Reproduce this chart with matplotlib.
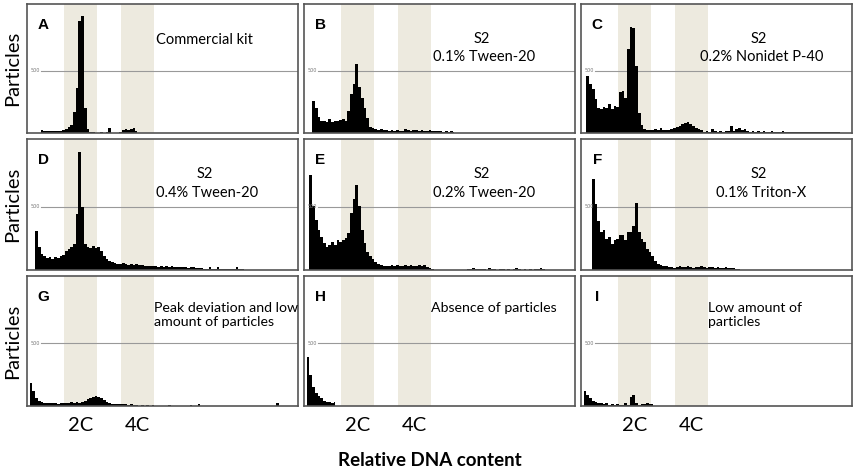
import numpy as np
import matplotlib
matplotlib.use('Agg')
import matplotlib.pyplot as plt

# ===== data: particle counts per channel (channel = 1/100 of panel width) =====
hist_A = [0, 0, 0, 0, 0, 22, 15, 20, 14, 18, 16, 20, 18, 22, 30, 45, 65, 170, 360, 900,
          940, 200, 35, 12, 6, 4, 3, 5, 3, 6, 40, 4, 3, 3, 5, 25, 30, 22, 35, 42, 15]
hist_B = [0, 0, 0, 257, 200, 130, 95, 100, 85, 110, 90, 100, 95, 105, 110, 100, 175, 311, 393, 550,
          366, 284, 200, 120, 52, 40, 30, 28, 30, 22, 25, 18, 28, 20, 24, 15, 20, 30, 22, 18,
          25, 28, 20, 22, 18, 15, 22, 16, 20, 14, 18, 12, 16, 10, 14, 8]
hist_C = [0, 0, 460, 390, 350, 270, 200, 190, 210, 200, 230, 195, 215, 205, 325, 340, 280, 675, 850, 840,
          540, 160, 68, 35, 25, 28, 22, 30, 25, 40, 24, 28, 22, 35, 40, 45, 60, 75, 80, 86,
          70, 55, 40, 30, 22, 12, 15, 10, 30, 14, 12, 18, 10, 15, 20, 54, 18, 32, 40, 28,
          36, 15, 12, 18, 10, 14, 12, 16, 10, 12, 14, 10, 12, 8, 14, 10, 12, 8, 10, 12,
          8, 10, 12, 8, 10, 9, 8, 10, 7, 9, 8, 7, 9, 6, 10, 5]
hist_D = [0, 0, 0, 310, 180, 126, 110, 95, 105, 90, 100, 92, 108, 120, 150, 165, 180, 205, 440, 936,
          500, 205, 185, 175, 190, 170, 180, 150, 113, 87, 75, 60, 55, 50, 45, 52, 48, 42, 47, 40,
          45, 38, 42, 35, 30, 32, 28, 30, 26, 28, 25, 30, 24, 28, 22, 26, 20, 24, 22, 18,
          22, 20, 16, 18, 12, 10, 8, 26, 8, 6, 22, 8, 6, 5, 4, 5, 6, 26, 5, 4, 3, 0]
hist_E = [0, 0, 748, 505, 398, 317, 264, 210, 183, 200, 223, 196, 237, 223, 240, 250, 290, 452, 560, 672,
          505, 317, 210, 143, 110, 89, 65, 48, 38, 32, 35, 28, 38, 30, 43, 32, 28, 36, 30, 40,
          34, 28, 38, 30, 42, 26, 18, 8, 0, 0, 0, 0, 0, 0, 0, 0, 0, 0, 0, 0,
          10, 4, 12, 6, 4, 10, 5, 3, 12, 4, 6, 3, 10, 4, 3, 4, 3, 4, 12, 5,
          3, 4, 3, 4, 3, 10, 4, 12, 4, 3, 2]
hist_F = [0, 0, 0, 0, 720, 522, 385, 302, 316, 247, 261, 206, 234, 247, 275, 275, 234, 302, 302, 350,
          528, 302, 247, 220, 165, 140, 110, 69, 50, 41, 35, 28, 22, 25, 18, 22, 28, 20, 25, 30,
          22, 18, 25, 20, 28, 22, 18, 24, 20, 16, 22, 18, 15, 20, 14, 16, 12, 10, 6]
hist_G = [0, 184, 118, 66, 40, 30, 22, 20, 24, 20, 22, 18, 24, 20, 26, 24, 28, 22, 30, 26,
          32, 40, 53, 66, 71, 79, 71, 60, 45, 34, 25, 18, 15, 13, 15, 12, 14, 10, 12, 5,
          4, 3, 5, 3, 4, 3, 4, 3, 2, 3, 2, 3, 10, 3, 2, 3, 2, 3, 2, 3,
          10, 3, 2, 12, 3, 2, 3, 2, 3, 2, 3, 2, 2, 3, 2, 2, 3, 2, 2, 3,
          2, 2, 3, 2, 2, 3, 2, 2, 3, 2, 2, 3, 25, 2]
hist_H = [0, 390, 250, 150, 100, 80, 60, 40, 30, 35, 25, 30]
hist_I = [0, 120, 90, 60, 40, 35, 20, 22, 18, 20, 10, 12, 8, 15, 5, 4, 25, 6, 70, 85,
          20, 5, 18, 15, 20, 16, 18]

panel_letters = ['A', 'B', 'C', 'D', 'E', 'F', 'G', 'H', 'I']
panel_notes = ['Commercial kit',
               'S2\n0.1% Tween-20',
               'S2\n0.2% Nonidet P-40',
               'S2\n0.4% Tween-20',
               'S2\n0.2% Tween-20',
               'S2\n0.1% Triton-X',
               'Peak deviation and low\namount of particles',
               'Absence of particles',
               'Low amount of\nparticles']
band_2c = (13.6, 25.7)
band_4c = (34.6, 46.7)
ref_level = 500

hists = [hist_A, hist_B, hist_C, hist_D, hist_E, hist_F, hist_G, hist_H, hist_I]

# ===== layout (pixels) =====
W, H = 856, 472
col_left = [27, 304, 581]
col_w = 271
row_top = [4, 139, 276]
row_bot = [133, 270, 406]

txt_font = ['Lato', 'DejaVu Sans']
band_col = '#edeadf'

fig = plt.figure(figsize=(W / 100, H / 100), dpi=100)

for k, h in enumerate(hists):
    r, c = divmod(k, 3)
    ax = fig.add_axes([col_left[c] / W, 1 - row_bot[r] / H,
                       col_w / W, (row_bot[r] - row_top[r]) / H])
    ax.set_xlim(0, 100)
    ax.set_ylim(0, 1035)
    ax.set_xticks([])
    ax.set_yticks([])
    for s in ax.spines.values():
        s.set_color('#555555')
        s.set_linewidth(1.2)

    ax.axvspan(*band_2c, color=band_col, lw=0, zorder=0)
    ax.axvspan(*band_4c, color=band_col, lw=0, zorder=0)
    ax.axhline(ref_level, xmin=0.05, xmax=1, color='#999999', lw=0.8, zorder=1)
    ax.text(1.5, ref_level, '500', fontsize=3.5, color='#777777', va='center', ha='left')

    x = np.arange(len(h)) + 0.5
    ax.fill_between(x, h, step='mid', color='black', lw=0, zorder=2)

    ax.text(0.06, 0.84, panel_letters[k], transform=ax.transAxes, fontsize=11,
            fontweight='bold', family=['Liberation Sans', 'DejaVu Sans'],
            ha='center', va='center')

    note = panel_notes[k]
    if note.startswith('S2'):
        ax.text(0.655, 0.73, 'S2', transform=ax.transAxes, fontsize=10.5,
                family=txt_font, ha='center', va='center')
        ax.text(0.665, 0.59, note.split('\n')[1], transform=ax.transAxes, fontsize=10.5,
                family=txt_font, ha='center', va='center')
    elif k == 0:
        ax.text(0.655, 0.72, note, transform=ax.transAxes, fontsize=10.5,
                family=txt_font, ha='center', va='center')
    else:
        ax.text(0.47, 0.80, note, transform=ax.transAxes, fontsize=10.2,
                family=txt_font, ha='left', va='top', linespacing=1.25)

    if r == 2:
        ax.text(np.mean(band_2c), -0.15, '2C', transform=ax.get_xaxis_transform(),
                fontsize=14.5, family=txt_font, ha='center', va='center')
        ax.text(np.mean(band_4c), -0.15, '4C', transform=ax.get_xaxis_transform(),
                fontsize=14.5, family=txt_font, ha='center', va='center')

for r in range(3):
    yc = 1 - (row_top[r] + row_bot[r]) / 2 / H
    fig.text(13 / W, yc, 'Particles', rotation=90, fontsize=14.5, family=txt_font,
             ha='center', va='center')

fig.text(430 / W, 1 - 460 / H, 'Relative DNA content', fontsize=13.5, fontweight='bold',
         family=txt_font, ha='center', va='center')

fig.savefig('out.png', dpi=100)
